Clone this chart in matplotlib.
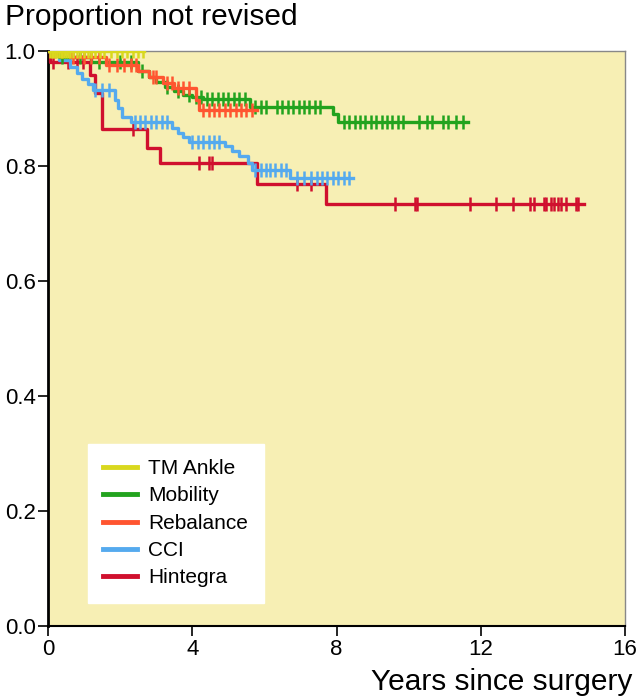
#!/usr/bin/env python3
import numpy as np
import matplotlib.pyplot as plt

plt.rcParams['font.family'] = ['Liberation Sans', 'DejaVu Sans']

# Kaplan-Meier curves: step times, survival after each step,
# censoring times and the last follow-up time
labels = ['TM Ankle', 'Mobility', 'Rebalance', 'CCI', 'Hintegra']
colors = ['#D9D81E', '#22A31E', '#FF5530', '#55AAEE', '#D0102E']

tm_times = [0.0]
tm_surv = [1.0]
tm_cens = [0.05, 0.1, 0.15, 0.2, 0.25, 0.3, 0.35, 0.4, 0.45, 0.5, 0.55, 0.6, 0.7, 0.8,
           0.9, 1.0, 1.1, 1.2, 1.3, 1.45, 1.55, 1.75, 1.9, 2.05, 2.2, 2.35, 2.5, 2.62]
tm_end = 2.65

mob_times = [0.0, 0.3, 1.2, 2.5, 2.8, 3.0, 3.25, 3.5, 3.75, 4.0, 4.3, 5.6, 7.9, 8.05]
mob_surv = [1.0, 0.99, 0.98, 0.966, 0.955, 0.946, 0.937, 0.93, 0.923, 0.92, 0.917,
            0.903, 0.89, 0.877]
mob_cens = [0.4, 0.9, 1.4, 2.0, 2.3, 2.6, 3.3, 3.6, 3.9, 4.1, 4.25, 4.4, 4.55, 4.7, 4.85,
            5.0, 5.15, 5.3, 5.45, 5.75, 5.9, 6.05, 6.35, 6.5, 6.65, 6.8, 6.95, 7.1, 7.25,
            7.4, 7.55, 8.2, 8.35, 8.5, 8.65, 8.8, 8.95, 9.1, 9.25, 9.4, 9.55, 9.7, 9.85,
            10.3, 10.5, 10.65, 10.95, 11.1, 11.3, 11.5]
mob_end = 11.65

reb_times = [0.0, 0.6, 1.6, 2.5, 2.8, 3.2, 3.5, 4.1, 4.2]
reb_surv = [1.0, 0.99, 0.976, 0.965, 0.955, 0.945, 0.936, 0.915, 0.897]
reb_cens = [0.2, 0.4, 0.7, 1.0, 1.2, 1.4, 1.7, 1.9, 2.1, 2.3, 2.45, 2.9, 3.0, 3.3, 3.45,
            3.6, 3.75, 3.9, 4.3, 4.45, 4.6, 4.75, 4.9, 5.05, 5.2, 5.35, 5.5, 5.65]
reb_end = 5.8

cci_times = [0.0, 0.3, 0.6, 0.8, 0.95, 1.1, 1.25, 1.85, 1.95, 2.05, 2.3, 3.45, 3.6,
             3.75, 3.9, 4.9, 5.1, 5.3, 5.55, 5.65, 6.7]
cci_surv = [1.0, 0.985, 0.972, 0.962, 0.952, 0.942, 0.932, 0.915, 0.9, 0.885, 0.876,
            0.866, 0.858, 0.85, 0.842, 0.834, 0.826, 0.818, 0.806, 0.793, 0.779]
cci_cens = [1.3, 1.5, 1.7, 2.4, 2.55, 2.7, 2.85, 3.0, 3.15, 3.3, 4.0, 4.15, 4.3, 4.45,
            4.6, 4.75, 5.75, 5.9, 6.05, 6.15, 6.3, 6.45, 6.6, 6.9, 7.1, 7.3, 7.45, 7.6,
            7.75, 7.9, 8.05, 8.2, 8.35]
cci_end = 8.45

hin_times = [0.0, 0.05, 1.15, 1.3, 1.5, 2.75, 3.1, 5.8, 7.7]
hin_surv = [1.0, 0.981, 0.958, 0.927, 0.864, 0.831, 0.805, 0.769, 0.734]
hin_cens = [0.15, 0.55, 0.8, 0.97, 2.35, 4.2, 4.45, 4.55, 6.9, 7.3, 9.61, 10.17, 10.22,
            11.69, 12.42, 12.89, 13.36, 13.47, 13.75, 13.81, 13.94, 14.03, 14.14, 14.22,
            14.36, 14.64, 14.69]
hin_end = 14.86

x_ticks = [0, 4, 8, 12, 16]
y_ticks = [0.0, 0.2, 0.4, 0.6, 0.8, 1.0]


def km_curve(ax, times, surv, cens, end, color, label, z):
    t = np.array(times + [end])
    s = np.array(surv + [surv[-1]])
    ax.step(t, s, where='post', color=color, lw=2.4, label=label, zorder=z)
    # censoring marks sit on the curve
    idx = np.searchsorted(times, cens, side='right') - 1
    ax.plot(cens, np.array(surv)[idx], ls='none', marker='|', ms=10, mew=1.8,
            color=color, zorder=z)


fig = plt.figure(figsize=(6.43, 6.98), dpi=100)
ax = fig.add_axes([0.0747, 0.103, 0.8973, 0.824])
ax.set_facecolor('#F7EFB4')

curves = [
    (hin_times, hin_surv, hin_cens, hin_end, 4),
    (cci_times, cci_surv, cci_cens, cci_end, 3),
    (mob_times, mob_surv, mob_cens, mob_end, 1),
    (reb_times, reb_surv, reb_cens, reb_end, 2),
    (tm_times, tm_surv, tm_cens, tm_end, 0),
]
for z, (times, surv, cens, end, i) in enumerate(curves):
    km_curve(ax, times, surv, cens, end, colors[i], labels[i], 3 + z)

ax.set_xlim(0, 16)
ax.set_ylim(0, 1.0)
ax.set_xticks(x_ticks)
ax.set_xticklabels([str(v) for v in x_ticks])
ax.set_yticks(y_ticks)
ax.set_yticklabels(['%.1f' % v for v in y_ticks])
ax.tick_params(axis='both', labelsize=16, length=7, width=1.2, direction='out', pad=2,
               color='black')

ax.spines['left'].set_linewidth(2)
ax.spines['bottom'].set_linewidth(1.5)
ax.spines['top'].set_color('#888888')
ax.spines['right'].set_color('#888888')
ax.spines['top'].set_linewidth(1)
ax.spines['right'].set_linewidth(1)

fig.text(0.008, 0.975, 'Proportion not revised', fontsize=21.5, ha='left', va='center')
fig.text(0.984, 0.023, 'Years since surgery', fontsize=21.5, ha='right', va='center')

# legend entries in the original order
handles, labs = ax.get_legend_handles_labels()
order = [labs.index(l) for l in labels]
leg = ax.legend([handles[i] for i in order], [labs[i] for i in order],
                loc='lower left', bbox_to_anchor=(0.069, 0.04), fontsize=15,
                frameon=True, fancybox=False, framealpha=1, edgecolor='white',
                handlelength=1.6, handletextpad=0.55, labelspacing=0.4,
                borderpad=0.75, borderaxespad=0)
for h in leg.legend_handles:
    h.set_linewidth(3.5)

fig.savefig('out.png', dpi=100)
